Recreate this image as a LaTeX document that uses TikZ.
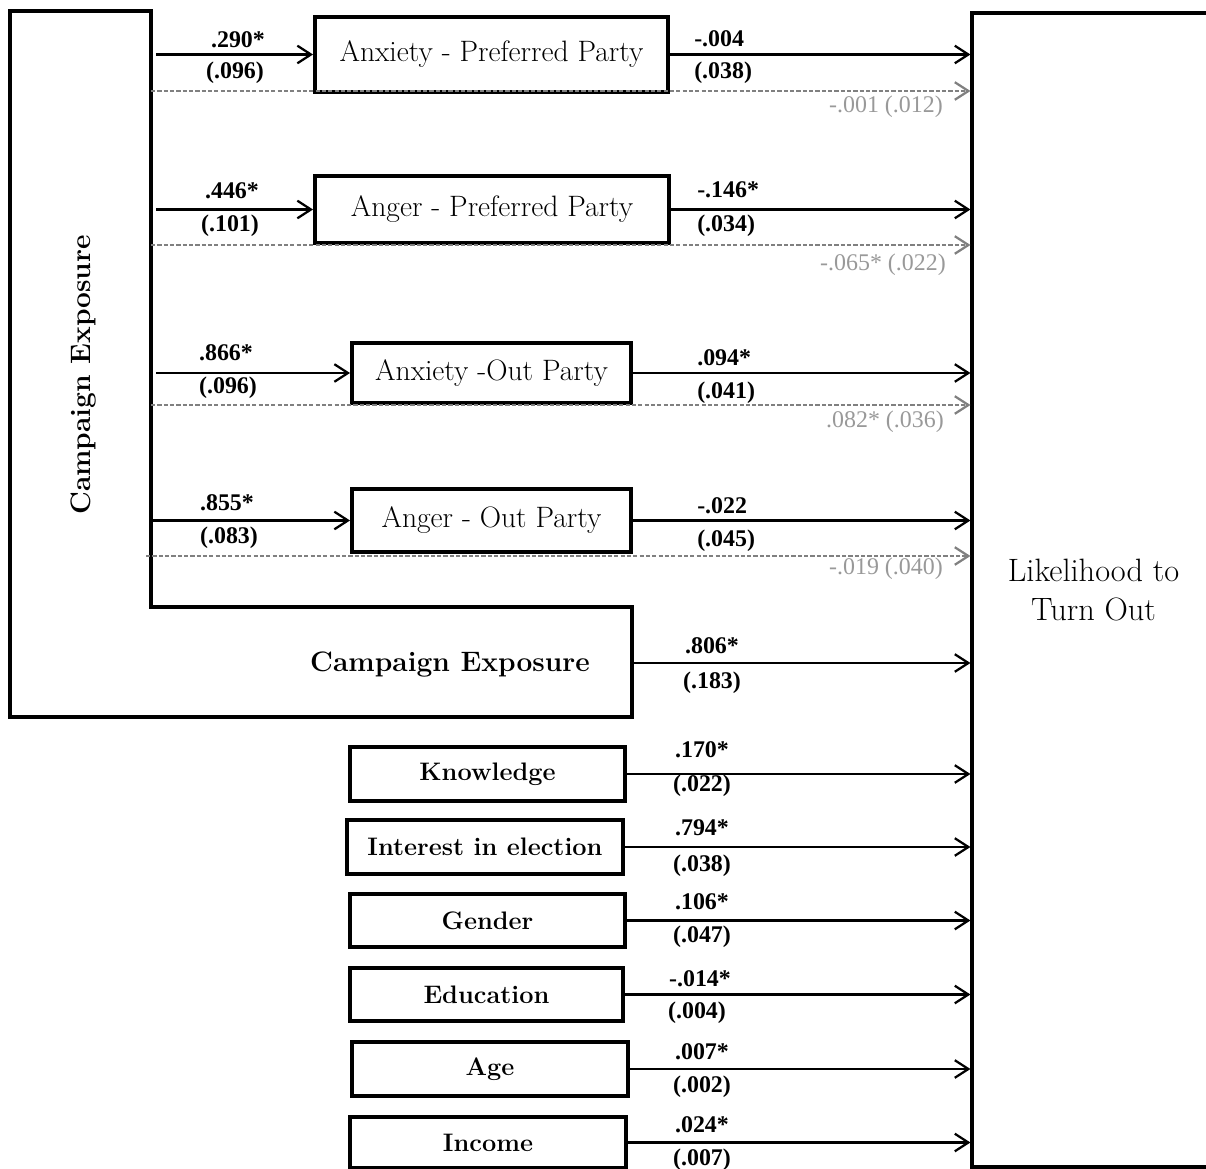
\documentclass[tikz,border=0pt]{standalone}
\usepackage{fontspec}
\newfontfamily\numfont{Liberation Serif}
\usetikzlibrary{arrows.meta}
\begin{document}
\begin{tikzpicture}[x=0.025cm,y=-0.025cm,
  sz/.style n args={2}{minimum width=#1*0.025cm, minimum height=#2*0.025cm},
  box/.style={draw, line width=2.8pt, inner sep=0pt},
  med/.style={box, font=\fontsize{21}{24}\selectfont},
  ctrl/.style={box, font=\fontsize{18}{20}\selectfont\bfseries},
  arr/.style={line width=1.8pt, -{Straight Barb[length=3.4mm,width=4.4mm,line width=1.6pt]}},
  darr/.style={line width=1.8pt, draw=black!50, dash pattern=on 3pt off 1.5pt,
    -{Straight Barb[length=3.4mm,width=4.4mm,line width=1.6pt,sep=0pt]}},
  num/.style={font=\numfont\bfseries\fontsize{17}{19}\selectfont, inner sep=0pt},
  numw/.style={num, anchor=west},
  gnum/.style={font=\numfont\fontsize{17}{19}\selectfont, text=black!40, inner sep=0pt, anchor=east},
  big/.style={font=\fontsize{20}{24}\selectfont\bfseries, inner sep=0pt},
]
\useasboundingbox (0,0) rectangle (1206,1169);

% L-shaped Campaign Exposure shape
\draw[line width=2.8pt, line join=miter] (10,11) -- (151,11) -- (151,607) -- (632,607) -- (632,717) -- (10,717) -- cycle;
\node[big, rotate=90] (cev) at (84,375) {Campaign Exposure};
\node[big] (ceh) at (450,665) {Campaign Exposure};

% outcome box
\node[draw, line width=2.2pt, sz={243}{1154}, font=\fontsize{23}{28}\selectfont, align=center, inner sep=0pt]
  (out) at (1093.5,590) {Likelihood to\\Turn Out};

% mediators
\node[med, sz={353}{75}] (m1) at (491.5,54.5) {Anxiety - Preferred Party};
\node[med, sz={354}{67}] (m2) at (492,209.5) {Anger - Preferred Party};
\node[med, sz={279}{60}] (m3) at (491.5,373) {Anxiety -Out Party};
\node[med, sz={279}{63}] (m4) at (491.5,520.5) {Anger - Out Party};

% start points on the inner edge of the L shape
\coordinate (s1) at (156,54.5);
\coordinate (s2) at (156,209.5);
\coordinate (s3) at (156,373);
\coordinate (s4) at (151,520.5);
\coordinate (d1) at (151,91);
\coordinate (d2) at (151,245);
\coordinate (d3) at (151,405);
\coordinate (d4) at (146,556);
\coordinate (ce) at (632,663);

% dashed direct effects
\foreach \i in {1,2,3,4} {
  \draw[darr] (d\i) -- (d\i -| out.west);
}

% a and b paths
\foreach \i in {1,2,3,4} {
  \draw[arr] (s\i) -- (m\i.west);
  \draw[arr] (m\i.east) -- (m\i.east -| out.west);
}
\draw[arr] (ce) -- (ce -| out.west);

% labels a paths
\node[num] (a1u) at (238,40) {.290*};
\node[num] (a1l) at (235,73) {(.096)};
\node[num] (a2u) at (232,191) {.446*};
\node[num] (a2l) at (230,226) {(.101)};
\node[num] (a3u) at (226,353) {.866*};
\node[num] (a3l) at (228,388) {(.096)};
\node[num] (a4u) at (227,503) {.855*};
\node[num] (a4l) at (229,538) {(.083)};

% labels b paths
\node[numw] (b1u) at (694,39) {-.004};
\node[numw] (b1l) at (694,73) {(.038)};
\node[numw] (b2u) at (697,190) {-.146*};
\node[numw] (b2l) at (697,226) {(.034)};
\node[numw] (b3u) at (697,358) {.094*};
\node[numw] (b3l) at (697,393) {(.041)};
\node[numw] (b4u) at (697,506) {-.022};
\node[numw] (b4l) at (697,541) {(.045)};

% gray labels
\node[gnum] (g1) at (943,107) {-.001 (.012)};
\node[gnum] (g2) at (946,265) {-.065* (.022)};
\node[gnum] (g3) at (944,422) {.082* (.036)};
\node[gnum] (g4) at (943,569) {-.019 (.040)};

% direct effect
\node[num] (c1u) at (712,646) {.806*};
\node[num] (c1l) at (712,683) {(.183)};

% controls
\node[ctrl, sz={275}{54}] (k) at (487.5,774) {Knowledge};
\node[ctrl, sz={276}{54}] (ie) at (485,847) {Interest in election};
\node[ctrl, sz={275}{53}] (gd) at (487.5,920.5) {Gender};
\node[ctrl, sz={273}{53}] (ed) at (486.5,994.5) {Education};
\node[ctrl, sz={276}{54}] (ag) at (490,1069) {Age};
\node[ctrl, sz={276}{51}] (ic) at (488,1142.5) {Income};

\foreach \n in {k,ie,gd,ed,ag,ic} {
  \draw[arr] (\n.east) -- (\n.east -| out.west);
}

\node[num] (ku) at (702,750) {.170*};
\node[num] (kl) at (702,786) {(.022)};
\node[num] (ieu) at (702,828) {.794*};
\node[num] (iel) at (702,866) {(.038)};
\node[num] (gdu) at (702,902) {.106*};
\node[num] (gdl) at (702,937) {(.047)};
\node[num] (edu) at (700,979) {-.014*};
\node[num] (edl) at (697,1013) {(.004)};
\node[num] (agu) at (702,1052) {.007*};
\node[num] (agl) at (702,1087) {(.002)};
\node[num] (icu) at (702,1125) {.024*};
\node[num] (icl) at (702,1160) {(.007)};
\end{tikzpicture}
\end{document}
